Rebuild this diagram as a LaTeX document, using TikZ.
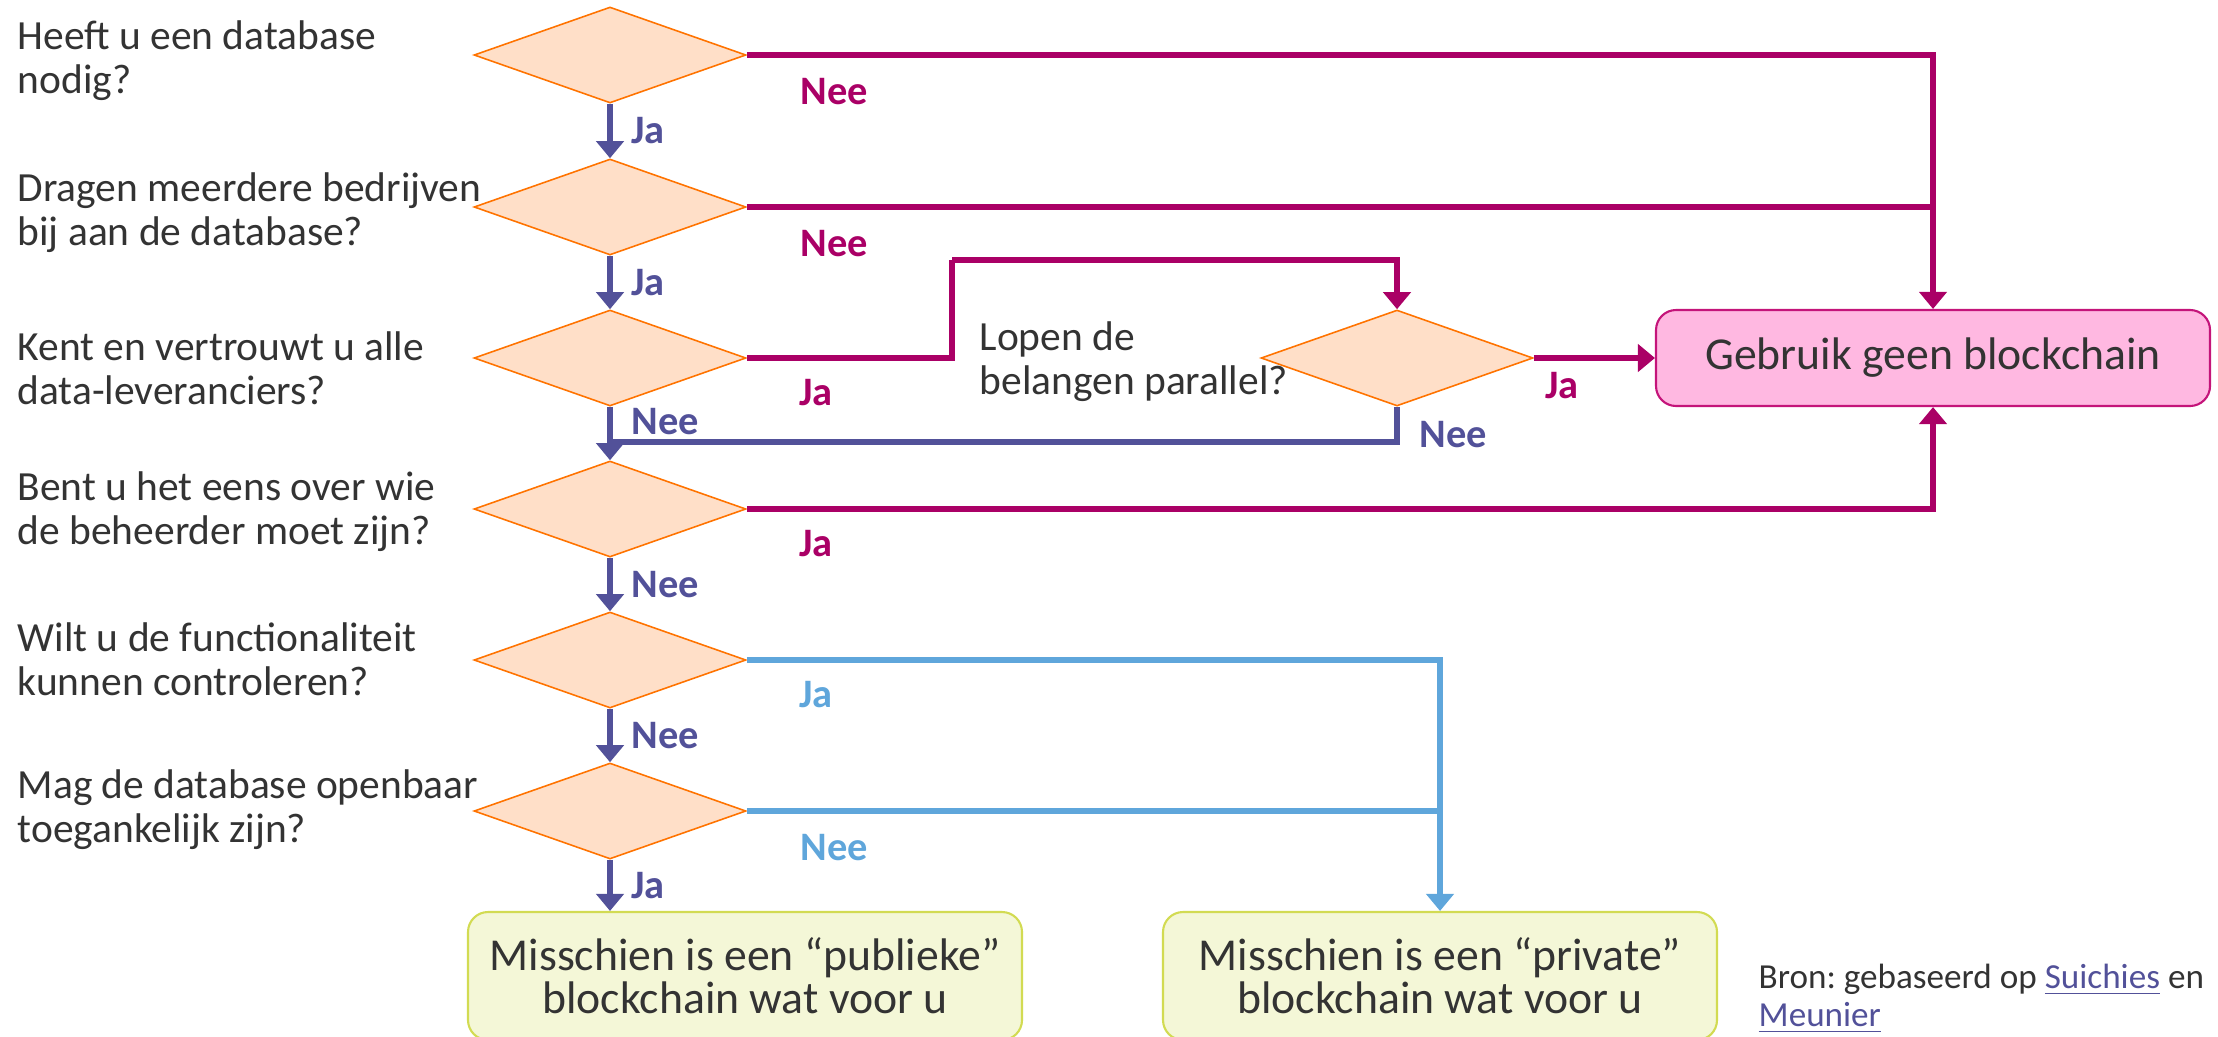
\documentclass[tikz,border=0pt]{standalone}
\usepackage{fontspec}
\setmainfont{Carlito}
\usetikzlibrary{shapes.geometric,arrows.meta}
\frenchspacing
\definecolor{tekst}{HTML}{333333}
\definecolor{roze}{HTML}{AA0066}
\definecolor{paars}{HTML}{525199}
\definecolor{blauw}{HTML}{5FA6DB}
\definecolor{ruitvul}{HTML}{FFDFC8}
\definecolor{ruitrand}{HTML}{FF7300}
\definecolor{geenvul}{HTML}{FFB8E1}
\definecolor{geenrand}{HTML}{C4147A}
\definecolor{optievul}{HTML}{F4F7D7}
\definecolor{optierand}{HTML}{D2DB52}
\newcommand{\bronlink}[1]{{\color{paars}\underline{#1}}}
\tikzset{vraag/.style={diamond, draw=ruitrand, fill=ruitvul, line width=.45pt,
  minimum width=2.72cm, minimum height=.96cm, inner sep=0pt}}
\tikzset{vtekst/.style={anchor=west, align=left, inner sep=0pt, text=tekst,
  font=\fontsize{11.8}{12.6}\selectfont}}
\tikzset{geenbox/.style={rectangle, rounded corners=.2cm, draw=geenrand, fill=geenvul,
  line width=.6pt, minimum width=5.54cm, minimum height=.96cm, text=tekst,
  font=\fontsize{13}{14}\selectfont}}
\tikzset{optiebox/.style={rectangle, rounded corners=.2cm, draw=optierand, fill=optievul,
  line width=.6pt, minimum width=5.54cm, minimum height=1.28cm, align=center, text=tekst,
  font=\fontsize{13}{12.2}\selectfont}}
\tikzset{lijn/.style={line width=1.45pt}}
\tikzset{pijl/.style={-{Triangle[width=.27cm,length=.17cm]}}}
\tikzset{lbl/.style={inner sep=0pt, anchor=west, font=\bfseries\fontsize{11.5}{12}\selectfont}}

\begin{document}
\begin{tikzpicture}
\useasboundingbox (0,0) rectangle (22.18,-10.36);

\node[vraag] (q1) at (6.10,-0.55) {};
\node[vraag] (q2) at (6.10,-2.07) {};
\node[vraag] (q3) at (6.10,-3.58) {};
\node[vraag] (q4) at (6.10,-5.09) {};
\node[vraag] (q5) at (6.10,-6.60) {};
\node[vraag] (q6) at (6.10,-8.11) {};
\node[vraag] (q7) at (13.97,-3.58) {};

\node[vtekst] (t1) at (0.17,-0.61) {Heeft u een database\\nodig?};
\node[vtekst] (t2) at (0.17,-2.13) {Dragen meerdere bedrijven\\bij aan de database?};
\node[vtekst] (t3) at (0.17,-3.68) {Kent en vertrouwt u alle\\data-leveranciers?};
\node[vtekst] (t4) at (0.17,-5.12) {Bent u het eens over wie\\de beheerder moet zijn?};
\node[vtekst] (t5) at (0.17,-6.59) {Wilt u de functionaliteit\\kunnen controleren?};
\node[vtekst] (t6) at (0.17,-8.10) {Mag de database openbaar\\toegankelijk zijn?};
\node[vtekst] (t7) at (9.79,-3.62) {Lopen de\\belangen parallel?};

\node[geenbox] (geen) at (19.33,-3.58) {Gebruik geen blockchain};
\node[optiebox] (pub) at (7.45,-9.76) {Misschien is een “publieke”\\blockchain wat voor u};
\node[optiebox] (priv) at (14.40,-9.76) {Misschien is een “private”\\blockchain wat voor u};
\node[vtekst, font=\fontsize{10}{10.8}\selectfont] (bron) at (17.58,-9.99)
  {Bron: gebaseerd op \bronlink{Suichies} en\\\bronlink{Meunier}};

\coordinate (k1) at (9.52,-2.60);
\coordinate (k2) at (6.10,-4.42);

\draw[lijn, paars, pijl] (q1.south) -- node[lbl, text=paars, xshift=.19cm] (l1) {Ja} (q2.north);
\draw[lijn, paars, pijl] (q2.south) -- node[lbl, text=paars, xshift=.19cm] (l2) {Ja} (q3.north);
\draw[lijn, paars, pijl] (q3.south) -- node[lbl, text=paars, xshift=.19cm, pos=.28] (l3) {Nee} (q4.north);
\draw[lijn, paars, pijl] (q4.south) -- node[lbl, text=paars, xshift=.19cm] (l4) {Nee} (q5.north);
\draw[lijn, paars, pijl] (q5.south) -- node[lbl, text=paars, xshift=.19cm] (l5) {Nee} (q6.north);
\draw[lijn, paars, pijl] (q6.south) -- node[lbl, text=paars, xshift=.19cm] (l6) {Ja} (q6.south |- pub.north);
\draw[lijn, paars] (q7.south) |- (k2);

\draw[lijn, roze, pijl] (q1.east) -| (geen.north);
\draw[lijn, roze] (q2.east) -- (q2.east -| geen.north);
\draw[lijn, roze, pijl] (q4.east) -| (geen.south);
\draw[lijn, roze] (q3.east) -| (k1);
\draw[lijn, roze, pijl] (k1) -| (q7.north);
\draw[lijn, roze, pijl] (q7.east) -- (geen.west);

\draw[lijn, blauw, pijl] (q5.east) -| (priv.north);
\draw[lijn, blauw] (q6.east) -- (q6.east -| priv.north);

\node[lbl, text=roze] (n1) at ([shift={(.53,-.37)}]q1.east) {Nee};
\node[lbl, text=roze] (n2) at ([shift={(.53,-.37)}]q2.east) {Nee};
\node[lbl, text=roze] (n3) at ([shift={(.52,-.35)}]q3.east) {Ja};
\node[lbl, text=roze] (n4) at ([shift={(.52,-.35)}]q4.east) {Ja};
\node[lbl, text=blauw] (n5) at ([shift={(.52,-.35)}]q5.east) {Ja};
\node[lbl, text=blauw] (n6) at ([shift={(.53,-.37)}]q6.east) {Nee};
\node[lbl, text=roze] (n7) at ([shift={(.11,-.28)}]q7.east) {Ja};
\node[lbl, text=paars] (n8) at ([shift={(.22,-.28)}]q7.south) {Nee};
\end{tikzpicture}
\end{document}
